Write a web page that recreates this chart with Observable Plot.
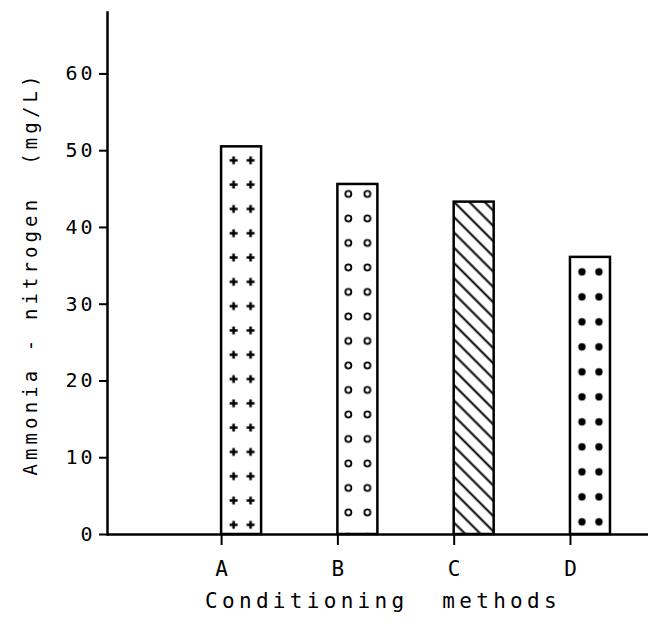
<!DOCTYPE html>
<html><head><meta charset="utf-8">
<script src="https://cdn.jsdelivr.net/npm/d3@7"></script>
<script src="https://cdn.jsdelivr.net/npm/@observablehq/plot@0.6"></script>
<style>body{margin:0;background:#fff}</style>
</head><body><div id="chart"></div>
<script>
const categories = ["A", "B", "C", "D"];
const values = [50.5, 45.6, 43.3, 36.1];
const yTicks = [0, 10, 20, 30, 40, 50, 60];
const yLabel = "Ammonia - nitrogen  (mg/L)";
const xLabel = "Conditioning  methods";
const patternKinds = ["plus", "ring", "hatch", "dot"];

const data = categories.map((c, i) => ({method: c, value: values[i], pattern: patternKinds[i]}));

const chart = Plot.plot({
  width: 650, height: 626,
  marginLeft: 107, marginRight: 2, marginTop: 12, marginBottom: 92,
  style: {fontFamily: "'DejaVu Sans Mono', monospace", background: "white", color: "black"},
  x: {domain: categories, paddingInner: 0.656, paddingOuter: 0.654, align: 0.75, round: false, axis: null},
  y: {domain: [0, 68], axis: null},
  color: {type: "identity"},
  marks: [
    Plot.barY(data, {x: "method", y: "value", fill: d => `url(#pat-${d.method})`, stroke: "black", strokeWidth: 2.5}),
    Plot.frame({anchor: "left", strokeWidth: 2.5}),
    Plot.ruleY([0], {strokeWidth: 2.5}),
    Plot.axisY({ticks: yTicks, tickSize: 8, tickPadding: 4, fontSize: 20, strokeWidth: 2, label: null}),
    Plot.axisX({tickSize: 11, tickPadding: 16, fontSize: 21, strokeWidth: 2, dx: -20, label: null}),
    Plot.text([yLabel], {text: d => d, frameAnchor: "left", textAnchor: "middle", dx: -77, rotate: -90, fontSize: 19}),
    Plot.text([xLabel], {text: d => d, frameAnchor: "bottom", textAnchor: "middle", dy: 73, dx: 5, fontSize: 21})
  ]
});
document.getElementById("chart").appendChild(chart);

const svg = d3.select(chart);
svg.selectAll("text").filter(function () { return this.textContent === yLabel; })
  .attr("xml:space", "preserve").style("white-space", "pre").style("letter-spacing", "4.1px");
svg.selectAll("text").filter(function () { return this.textContent === xLabel; })
  .attr("xml:space", "preserve").style("white-space", "pre").style("letter-spacing", "4.3px");
svg.selectAll("text").filter(function () { return yTicks.map(String).includes(this.textContent); })
  .style("letter-spacing", "3px");

const xs = chart.scale("x"), ys = chart.scale("y");
const bw = xs.bandwidth;
const defs = svg.insert("defs", ":first-child");
const spec = {
  plus: {h: 24.3, first: 14, cols: [12.5, 29.5]},
  ring: {h: 24.5, first: 10, cols: [11, 30]},
  dot: {h: 25, first: 15, cols: [12, 29]}
};
data.forEach(d => {
  const x0 = xs.apply(d.method), top = ys.apply(d.value);
  const p = defs.append("pattern").attr("id", `pat-${d.method}`).attr("patternUnits", "userSpaceOnUse");
  if (d.pattern === "hatch") {
    const s = 10.8;
    p.attr("x", x0).attr("y", top).attr("width", s).attr("height", s).attr("patternTransform", "rotate(-45)");
    p.append("rect").attr("width", s).attr("height", s).attr("fill", "white");
    p.append("line").attr("x1", s / 2).attr("x2", s / 2).attr("y1", 0).attr("y2", s).attr("stroke", "black").attr("stroke-width", 2);
    return;
  }
  const sp = spec[d.pattern];
  p.attr("x", x0).attr("y", top + sp.first - sp.h / 2).attr("width", bw).attr("height", sp.h);
  p.append("rect").attr("width", bw).attr("height", sp.h).attr("fill", "white");
  sp.cols.forEach(cx => {
    const cy = sp.h / 2;
    if (d.pattern === "plus") {
      p.append("path").attr("d", `M${cx - 4},${cy}H${cx + 4}M${cx},${cy - 4}V${cy + 4}`).attr("stroke", "black").attr("stroke-width", 2.6);
    } else if (d.pattern === "ring") {
      p.append("circle").attr("cx", cx).attr("cy", cy).attr("r", 3).attr("fill", "none").attr("stroke", "black").attr("stroke-width", 1.8);
    } else {
      p.append("circle").attr("cx", cx).attr("cy", cy).attr("r", 3.7).attr("fill", "black");
    }
  });
});
</script></body></html>
